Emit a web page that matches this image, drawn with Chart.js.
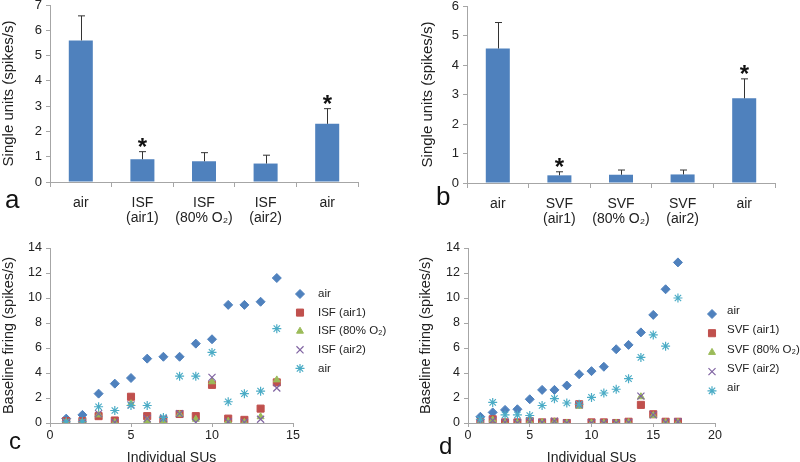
<!DOCTYPE html>
<html>
<head>
<meta charset="utf-8">
<script src="https://cdn.jsdelivr.net/npm/chart.js@4/dist/chart.umd.min.js"></script>
<style>
    body { margin: 0; background: #fff; width: 800px; height: 462px; overflow: hidden; position: relative;
           font-family: 'Liberation Sans', Arial, sans-serif; }
    .panel { position: absolute; width: 400px; height: 231px; }
    .letter { position: absolute; line-height: 1; color: #111; }
</style>
</head>
<body>
<div class="panel" style="left:0;top:0"><canvas id="chartA"></canvas></div>
<div class="panel" style="left:400px;top:0"><canvas id="chartB"></canvas></div>
<div class="panel" style="left:0;top:231px"><canvas id="chartC"></canvas></div>
<div class="panel" style="left:400px;top:231px"><canvas id="chartD"></canvas></div>
<div class="letter" style="left:5px;top:186px;font-size:26px">a</div>
<div class="letter" style="left:436px;top:183px;font-size:26px">b</div>
<div class="letter" style="left:9px;top:429px;font-size:24px">c</div>
<div class="letter" style="left:439px;top:434px;font-size:24px">d</div>
<script>
// panel a / b: mean firing per condition, error = SEM (top whisker only)
const labelsA = ['air', ['ISF', '(air1)'], ['ISF', '(80% O₂)'], ['ISF', '(air2)'], 'air'];
const meansA = [5.6, 0.9, 0.82, 0.73, 2.3];
const errorsA = [0.97, 0.3, 0.34, 0.33, 0.6];
const starsA = [false, true, false, false, true];

const labelsB = ['air', ['SVF', '(air1)'], ['SVF', '(80% O₂)'], ['SVF', '(air2)'], 'air'];
const meansB = [4.56, 0.26, 0.28, 0.29, 2.87];
const errorsB = [0.88, 0.12, 0.16, 0.15, 0.66];
const starsB = [false, true, false, false, true];

// panel c / d: individual single units
const unitsC = [1, 2, 3, 4, 5, 6, 7, 8, 9, 10, 11, 12, 13, 14];
const airC = [0.35, 0.65, 2.35, 3.15, 3.6, 5.15, 5.3, 5.3, 6.35, 6.7, 9.45, 9.45, 9.7, 11.6];
const isfAir1C = [0.15, 0.15, 0.55, 0.2, 2.1, 0.55, 0.25, 0.72, 0.55, 3.05, 0.35, 0.25, 1.15, 3.25];
const isfO2C = [0.05, 0.05, 0.65, 0.05, 1.55, 0.2, 0.15, 0.7, 0.3, 3.3, 0.15, 0.05, 0.5, 3.45];
const isfAir2C = [0.0, 0.0, 0.75, 0.05, 1.45, 0.35, 0.35, 0.75, 0.05, 3.65, 0.1, 0.05, 0.3, 2.8];
const airAfterC = [0.1, 0.1, 1.3, 1.0, 1.4, 1.4, 0.45, 3.75, 3.75, 5.65, 1.7, 2.35, 2.55, 7.55];

const unitsD = [1, 2, 3, 4, 5, 6, 7, 8, 9, 10, 11, 12, 13, 14, 15, 16, 17];
const airD = [0.5, 0.85, 1.05, 1.1, 1.9, 2.65, 2.65, 3.0, 3.9, 4.15, 4.5, 5.9, 6.25, 7.25, 8.65, 10.7, 12.85];
const svfAir1D = [0.05, 0.3, 0.05, 0.05, 0.15, 0.05, 0.1, 0.0, 1.5, 0.05, 0.05, 0.0, 0.1, 1.45, 0.7, 0.1, 0.1];
const svfO2D = [0.0, 0.25, 0.0, 0.0, 0.1, 0.05, 0.1, 0.0, 1.35, 0.0, 0.0, 0.0, 0.05, 2.1, 0.6, 0.05, 0.05];
const svfAir2D = [0.0, 0.2, 0.05, 0.0, 0.1, 0.05, 0.15, 0.0, 1.45, 0.0, 0.0, 0.0, 0.05, 2.15, 0.65, 0.05, 0.1];
const airAfterD = [0.3, 1.65, 0.65, 0.65, 0.6, 1.4, 1.95, 1.6, 1.5, 2.05, 2.4, 2.7, 3.55, 5.25, 7.05, 6.15, 10.0];

const BLUE = '#4f81bd', RED = '#c0504d', GREEN = '#9bbb59', PURPLE = '#8064a2', CYAN = '#4bacc6';
const AXIS = '#a6a6a6';

Chart.defaults.font.family = "'Liberation Sans', Arial, sans-serif";
Chart.defaults.color = '#222';
Chart.defaults.animation = false;

const errorBars = {
    id: 'errorBars',
    afterDatasetsDraw(chart, args, opts) {
        const ctx = chart.ctx;
        const y = chart.scales.y;
        const values = chart.data.datasets[0].data;
        ctx.save();
        ctx.strokeStyle = '#333';
        ctx.lineWidth = 1;
        ctx.fillStyle = '#111';
        ctx.font = "bold 24px 'Liberation Sans', Arial, sans-serif";
        ctx.textAlign = 'center';
        chart.getDatasetMeta(0).data.forEach((bar, i) => {
            const x = Math.round(bar.x) + 0.5;
            const yTop = y.getPixelForValue(values[i] + opts.errors[i]);
            const yBar = y.getPixelForValue(values[i]);
            ctx.beginPath();
            ctx.moveTo(x, yBar);
            ctx.lineTo(x, yTop);
            ctx.moveTo(x - 3.5, yTop);
            ctx.lineTo(x + 3.5, yTop);
            ctx.stroke();
            if (opts.stars[i]) {
                ctx.fillText('*', x, yTop + 3);
            }
        });
        ctx.restore();
    }
};

const markerLegend = {
    id: 'markerLegend',
    afterDraw(chart, args, opts) {
        const ctx = chart.ctx;
        ctx.save();
        ctx.font = "11.5px 'Liberation Sans', Arial, sans-serif";
        ctx.textBaseline = 'middle';
        chart.data.datasets.forEach((ds, i) => {
            const y = opts.y0 + i * opts.dy;
            ctx.fillStyle = ds.backgroundColor;
            ctx.strokeStyle = ds.borderColor;
            ctx.lineWidth = ds.pointBorderWidth;
            Chart.helpers.drawPoint(ctx, {
                pointStyle: ds.pointStyle, radius: ds.pointRadius, rotation: 0, borderWidth: ds.pointBorderWidth
            }, opts.x, y);
            ctx.fillStyle = '#222';
            ctx.fillText(ds.label, opts.textX, y + (opts.textDy || 0));
        });
        ctx.restore();
    }
};

function barChart(id, labels, means, errors, stars, yMax, pad, yWidth, xHeight, titlePad) {
    return new Chart(document.getElementById(id), {
        type: 'bar',
        data: {
            labels: labels,
            datasets: [{
                data: means,
                backgroundColor: BLUE,
                categoryPercentage: 1,
                barPercentage: 0.39
            }]
        },
        options: {
            responsive: true,
            maintainAspectRatio: false,
            layout: { padding: pad },
            plugins: {
                legend: { display: false },
                tooltip: { enabled: false },
                errorBars: { errors: errors, stars: stars }
            },
            scales: {
                x: {
                    grid: { drawOnChartArea: false, color: AXIS, tickLength: 5 },
                    border: { color: AXIS },
                    ticks: { font: { size: 14, lineHeight: 1.1 }, padding: 8, maxRotation: 0, autoSkip: false },
                    afterFit: s => { s.height = xHeight; }
                },
                y: {
                    min: 0,
                    max: yMax,
                    ticks: { stepSize: 1, font: { size: 13 }, padding: 4 },
                    grid: { drawOnChartArea: false, color: AXIS, tickLength: 4 },
                    border: { color: AXIS },
                    title: { display: true, text: 'Single units (spikes/s)', font: { size: 15 }, padding: titlePad },
                    afterFit: s => { s.width = yWidth; s.paddingTop = 0; s.paddingBottom = 0; }
                }
            }
        },
        plugins: [errorBars]
    });
}

function series(label, units, values, style, color, radius, width, order) {
    return {
        label: label,
        data: units.map((u, i) => ({ x: u, y: values[i] })),
        pointStyle: style,
        pointRadius: radius,
        pointBorderWidth: width,
        backgroundColor: color,
        borderColor: color,
        order: order
    };
}

function scatterChart(id, datasets, xMax, pad, yWidth, titlePad, legend) {
    return new Chart(document.getElementById(id), {
        type: 'scatter',
        data: { datasets: datasets },
        options: {
            responsive: true,
            maintainAspectRatio: false,
            layout: { padding: pad },
            plugins: {
                legend: { display: false },
                tooltip: { enabled: false },
                markerLegend: legend
            },
            scales: {
                x: {
                    min: 0,
                    max: xMax,
                    ticks: { stepSize: 5, font: { size: 12.5 }, padding: 1 },
                    grid: { drawOnChartArea: false, color: AXIS, tickLength: 4 },
                    border: { color: AXIS },
                    title: { display: true, text: 'Individual SUs', font: { size: 14, lineHeight: 0.6 }, padding: 0 },
                    afterFit: s => { s.height = 39; }
                },
                y: {
                    min: 0,
                    max: 14,
                    ticks: { stepSize: 2, font: { size: 12.5 }, padding: 4 },
                    grid: { drawOnChartArea: false, color: AXIS, tickLength: 4 },
                    border: { color: AXIS },
                    title: { display: true, text: 'Baseline firing (spikes/s)', font: { size: 14.5 }, padding: titlePad },
                    afterFit: s => { s.width = yWidth; }
                }
            }
        },
        plugins: [markerLegend]
    });
}

barChart('chartA', labelsA, meansA, errorsA, starsA, 7, { left: 0, right: 42, top: 5, bottom: 0 }, 50, 49, 0);
barChart('chartB', labelsB, meansB, errorsB, starsB, 6, { left: 15, right: 25, top: 6, bottom: 0 }, 52, 48, 4);

scatterChart('chartC', [
    series('air', unitsC, airC, 'rectRot', BLUE, 4.5, 1, 4),
    series('ISF (air1)', unitsC, isfAir1C, 'rect', RED, 5, 1, 3),
    series('ISF (80% O₂)', unitsC, isfO2C, 'triangle', GREEN, 4, 1, 2),
    series('ISF (air2)', unitsC, isfAir2C, 'crossRot', PURPLE, 5, 1.2, 1),
    series('air', unitsC, airAfterC, 'star', CYAN, 4.5, 1.2, 0)
], 15, { left: 0, right: 107, top: 17, bottom: 0 }, 50, 0, { x: 300, textX: 318, y0: 63, dy: 18.6 });

scatterChart('chartD', [
    series('air', unitsD, airD, 'rectRot', BLUE, 4.5, 1, 4),
    series('SVF (air1)', unitsD, svfAir1D, 'rect', RED, 5, 1, 3),
    series('SVF (80% O₂)', unitsD, svfO2D, 'triangle', GREEN, 4, 1, 2),
    series('SVF (air2)', unitsD, svfAir2D, 'crossRot', PURPLE, 5, 1.2, 1),
    series('air', unitsD, airAfterD, 'star', CYAN, 4.5, 1.2, 0)
], 20, { left: 15, right: 85, top: 17, bottom: 0 }, 53, 2, { x: 312, textX: 327, y0: 83, dy: 19.2, textDy: -3 });
</script>
</body>
</html>
